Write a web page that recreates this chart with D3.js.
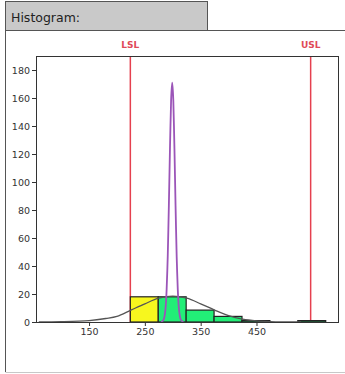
<!DOCTYPE html>
<html>
<head>
<meta charset="utf-8">
<script src="https://cdn.jsdelivr.net/npm/d3@7"></script>
<style>
  body { margin: 0; background: #fff; }
  svg { display: block; }
  .axis text { font-family: "DejaVu Sans", sans-serif; font-size: 9.5px; fill: #333; }
  .axis line { stroke: #333; }
  .axis path { display: none; }
</style>
</head>
<body>
<script>
//histogram bins
var binStarts = [224, 274, 324, 374, 424, 474, 524];
var binEnds   = [274, 324, 374, 424, 474, 524, 574];
var binCounts = [18, 18, 8.5, 4, 1, 0, 1];
var binColors = ["#f7f71e", "#22ee77", "#22ee77", "#22ee77", "#22ee77", "#22ee77", "#22ee77"];

//fitted (gray) curve, sampled points
var fitX = [60, 100, 150, 180, 200, 225, 250, 275, 300, 325, 350, 375, 400, 425, 450, 475, 500, 530];
var fitY = [0, 0.2, 1, 2.5, 4, 8.5, 13, 17, 18.5, 17, 13, 8.5, 4.5, 2, 0.8, 0.3, 0.1, 0];

//narrow (purple) curve, sampled points
var peakX = [279, 284, 287, 289, 291, 293, 295, 297, 299, 301, 303, 305, 307, 309, 311, 314, 319];
var peakY = [0, 2, 9.6, 23, 47, 83, 124, 158, 171, 158, 124, 83, 47, 23, 9.6, 2, 0];

//spec limits
var limitNames = ["LSL", "USL"];
var limitValues = [224, 547];

//axis ticks
var xTicks = [150, 250, 350, 450];
var yTicks = [0, 20, 40, 60, 80, 100, 120, 140, 160, 180];

(function(){
  var width = 345, height = 374;
  var plotLeft = 36, plotTop = 56, plotWidth = 302, plotHeight = 266;

  var svg = d3.select("body").append("svg")
      .attr("width", width)
      .attr("height", height);

  //panel frame and tab
  svg.append("line").attr("x1", 5.5).attr("y1", 30.5).attr("x2", 5.5).attr("y2", 372)
      .attr("stroke", "#555");
  svg.append("line").attr("x1", 5.5).attr("y1", 30.5).attr("x2", 345).attr("y2", 30.5)
      .attr("stroke", "#555");
  svg.append("line").attr("x1", 5.5).attr("y1", 372.5).attr("x2", 345).attr("y2", 372.5)
      .attr("stroke", "#c8c8c8");
  svg.append("rect")
      .attr("x", 5.5).attr("y", 1.5).attr("width", 202).attr("height", 29)
      .attr("fill", "#c9c9c9").attr("stroke", "#555");
  svg.append("text")
      .attr("x", 11).attr("y", 22)
      .style("font-family", "DejaVu Sans, sans-serif")
      .style("font-size", "12.5px")
      .attr("fill", "#222")
      .text("Histogram:");

  var x = d3.scaleLinear().domain([55, 596]).range([plotLeft, plotLeft + plotWidth]);
  var y = d3.scaleLinear().domain([0, 190]).range([plotTop + plotHeight, plotTop]);

  //spec limit lines and labels
  limitValues.forEach(function(v, i){
    svg.append("line")
        .attr("x1", x(v)).attr("x2", x(v))
        .attr("y1", plotTop).attr("y2", plotTop + plotHeight)
        .attr("stroke", "#e5404f").attr("stroke-width", 1.5);
    svg.append("text")
        .attr("x", x(v)).attr("y", 48)
        .attr("text-anchor", "middle")
        .style("font-family", "DejaVu Sans, sans-serif")
        .style("font-size", "9px")
        .style("font-weight", "bold")
        .attr("fill", "#e04a58")
        .text(limitNames[i]);
  });

  //bars
  var bins = binStarts.map(function(s, i){
    return {x0: s, x1: binEnds[i], n: binCounts[i], c: binColors[i]};
  }).filter(function(d){ return d.n > 0; });

  svg.selectAll(".bar")
      .data(bins)
      .enter()
      .append("rect")
      .attr("class", "bar")
      .attr("x", function(d){ return x(d.x0); })
      .attr("width", function(d){ return x(d.x1) - x(d.x0); })
      .attr("y", function(d){ return y(d.n); })
      .attr("height", function(d){ return y(0) - y(d.n); })
      .attr("fill", function(d){ return d.c; })
      .attr("stroke", "#222")
      .attr("stroke-width", 1.2);

  //curves
  var line = d3.line()
      .x(function(d){ return x(d[0]); })
      .y(function(d){ return y(d[1]); })
      .curve(d3.curveCatmullRom);

  svg.append("path")
      .datum(d3.zip(fitX, fitY))
      .attr("d", line)
      .attr("fill", "none")
      .attr("stroke", "#555")
      .attr("stroke-width", 1.3);

  svg.append("path")
      .datum(d3.zip(peakX, peakY))
      .attr("d", line.curve(d3.curveCardinal.tension(0.3)))
      .attr("fill", "none")
      .attr("stroke", "#9b55b8")
      .attr("stroke-width", 1.8);

  //plot frame
  svg.append("rect")
      .attr("x", plotLeft + 0.5).attr("y", plotTop + 0.5)
      .attr("width", plotWidth).attr("height", plotHeight)
      .attr("fill", "none")
      .attr("stroke", "#333");

  //axes
  svg.append("g")
      .attr("class", "axis")
      .attr("transform", "translate(" + plotLeft + ",0)")
      .call(d3.axisLeft(y).tickValues(yTicks).tickSize(4).tickPadding(2));

  svg.append("g")
      .attr("class", "axis")
      .attr("transform", "translate(0," + (plotTop + plotHeight) + ")")
      .call(d3.axisBottom(x).tickValues(xTicks).tickSize(4).tickPadding(2));
})();
</script>
</body>
</html>
